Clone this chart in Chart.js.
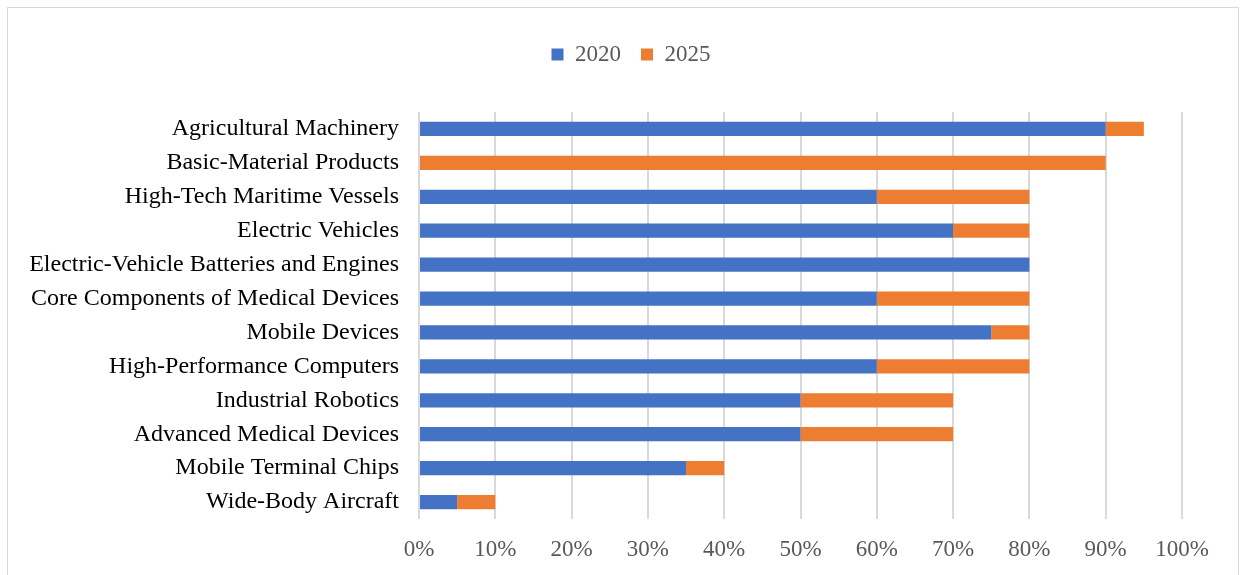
<!DOCTYPE html>
<html>
<head>
<meta charset="utf-8">
<script src="https://cdn.jsdelivr.net/npm/chart.js@4.4.1/dist/chart.umd.min.js"></script>
<style>
  html, body { margin: 0; padding: 0; background: #fff; overflow: hidden; }
  #box {
    position: absolute; left: 7px; top: 7px; width: 1232px; height: 580px;
    border: 1px solid #d9d9d9; box-sizing: border-box;
  }
  #wrap { position: absolute; left: 0; top: 0; width: 1230px; height: 567px; }
</style>
</head>
<body>
<div id="box"><div id="wrap"><canvas id="myChart"></canvas></div></div>
<script>
const categories = [
  'Agricultural Machinery',
  'Basic-Material Products',
  'High-Tech Maritime Vessels',
  'Electric Vehicles',
  'Electric-Vehicle Batteries and Engines',
  'Core Components of Medical Devices',
  'Mobile Devices',
  'High-Performance Computers',
  'Industrial Robotics',
  'Advanced Medical Devices',
  'Mobile Terminal Chips',
  'Wide-Body Aircraft'
];
const values2020 = [0.90, 0, 0.60, 0.70, 0.80, 0.60, 0.75, 0.60, 0.50, 0.50, 0.35, 0.05];
const values2025 = [0.05, 0.90, 0.20, 0.10, 0, 0.20, 0.05, 0.20, 0.20, 0.20, 0.05, 0.05];
const xTicks = [0, 0.1, 0.2, 0.3, 0.4, 0.5, 0.6, 0.7, 0.8, 0.9, 1.0];

const font = 'Liberation Serif, Times New Roman, serif';

// legend area taller than its items so the plot starts lower,
// and legend nudged right to sit where the original one does
const legendSpace = {
  id: 'legendSpace',
  afterInit(chart) {
    const fit = chart.legend.fit;
    chart.legend.fit = function () {
      fit.call(this);
      this.height += 36;
    };
  },
  afterLayout(chart) {
    chart.legend.left += 36;
    chart.legend.right += 36;
  }
};

const ctx = document.getElementById('myChart').getContext('2d');

const myChart = new Chart(ctx, {
  type: 'bar',
  data: {
    labels: categories,
    datasets: [{
      label: '2020',
      data: values2020,
      backgroundColor: '#4472C4',
      barPercentage: 0.42,
      categoryPercentage: 1
    }, {
      label: '2025',
      data: values2025,
      backgroundColor: '#ED7D31',
      barPercentage: 0.42,
      categoryPercentage: 1
    }]
  },
  plugins: [legendSpace],
  options: {
    indexAxis: 'y',
    responsive: true,
    maintainAspectRatio: false,
    animation: false,
    layout: { padding: { top: 15, right: 56, bottom: 0, left: 0 } },
    plugins: {
      legend: {
        position: 'top',
        labels: {
          font: { family: font, size: 23 },
          color: '#595959',
          boxWidth: 12,
          boxHeight: 12,
          padding: 20
        }
      },
      tooltip: { enabled: false }
    },
    scales: {
      x: {
        stacked: true,
        min: 0,
        max: 1,
        afterBuildTicks: (axis) => { axis.ticks = xTicks.map(v => ({ value: v })); },
        afterFit: (axis) => { axis.height = 56; },
        ticks: {
          font: { family: font, size: 23 },
          color: '#595959',
          padding: 17,
          callback: (v) => Math.round(v * 100) + '%'
        },
        grid: { color: '#d9d9d9', lineWidth: 2, drawTicks: false },
        border: { display: false }
      },
      y: {
        stacked: true,
        afterFit: (axis) => { axis.width = 411; },
        ticks: {
          font: { family: font, size: 24 },
          color: '#000000',
          padding: 20,
          autoSkip: false
        },
        grid: { display: false, drawTicks: false },
        border: { display: false }
      }
    }
  }
});
</script>
</body>
</html>
